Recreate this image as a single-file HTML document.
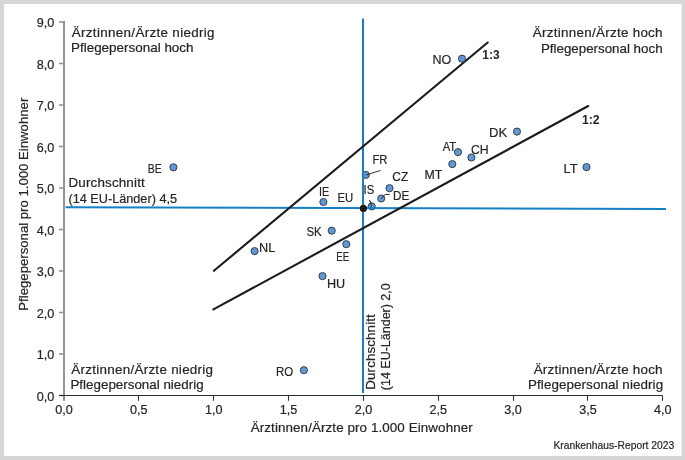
<!DOCTYPE html>
<html><head><meta charset="utf-8"><style>
html,body{margin:0;padding:0;background:#fff;}
#c{position:relative;width:685px;height:460px;overflow:hidden;}
svg{position:absolute;left:0;top:0;will-change:transform;}
text{font-family:"Liberation Sans",sans-serif;fill:#252525;stroke:#252525;stroke-width:0.2px;}
</style></head><body><div id="c">
<svg width="685" height="460" viewBox="0 0 685 460">
<rect x="0" y="0" width="685" height="460" fill="#d5d6d8"/>
<rect x="4" y="4" width="677.5" height="452" fill="#ffffff"/>
<line x1="64" y1="21" x2="64" y2="396" stroke="#979393" stroke-width="2"/>
<line x1="59" y1="395.50" x2="64" y2="395.50" stroke="#979393" stroke-width="1.6"/>
<line x1="59" y1="354.00" x2="64" y2="354.00" stroke="#979393" stroke-width="1.6"/>
<line x1="59" y1="312.50" x2="64" y2="312.50" stroke="#979393" stroke-width="1.6"/>
<line x1="59" y1="271.00" x2="64" y2="271.00" stroke="#979393" stroke-width="1.6"/>
<line x1="59" y1="229.50" x2="64" y2="229.50" stroke="#979393" stroke-width="1.6"/>
<line x1="59" y1="188.00" x2="64" y2="188.00" stroke="#979393" stroke-width="1.6"/>
<line x1="59" y1="146.50" x2="64" y2="146.50" stroke="#979393" stroke-width="1.6"/>
<line x1="59" y1="105.00" x2="64" y2="105.00" stroke="#979393" stroke-width="1.6"/>
<line x1="59" y1="63.50" x2="64" y2="63.50" stroke="#979393" stroke-width="1.6"/>
<line x1="59" y1="22.00" x2="64" y2="22.00" stroke="#979393" stroke-width="1.6"/>
<line x1="59" y1="395.5" x2="662.5" y2="395.5" stroke="#2d2d2f" stroke-width="1.1"/>
<line x1="64.00" y1="395.5" x2="64.00" y2="400.8" stroke="#333" stroke-width="1.1"/>
<line x1="138.50" y1="395.5" x2="138.50" y2="400.8" stroke="#333" stroke-width="1.1"/>
<line x1="213.50" y1="395.5" x2="213.50" y2="400.8" stroke="#333" stroke-width="1.1"/>
<line x1="288.50" y1="395.5" x2="288.50" y2="400.8" stroke="#333" stroke-width="1.1"/>
<line x1="363.50" y1="395.5" x2="363.50" y2="400.8" stroke="#333" stroke-width="1.1"/>
<line x1="438.50" y1="395.5" x2="438.50" y2="400.8" stroke="#333" stroke-width="1.1"/>
<line x1="513.50" y1="395.5" x2="513.50" y2="400.8" stroke="#333" stroke-width="1.1"/>
<line x1="587.50" y1="395.5" x2="587.50" y2="400.8" stroke="#333" stroke-width="1.1"/>
<line x1="662.50" y1="395.5" x2="662.50" y2="400.8" stroke="#333" stroke-width="1.1"/>
<circle cx="365.8" cy="174.9" r="3.6" fill="#6097d5" stroke="#2b2c33" stroke-width="0.85"/>
<circle cx="371.7" cy="206.4" r="3.6" fill="#6097d5" stroke="#2b2c33" stroke-width="0.85"/>
<polyline points="365.9,175.0 380.7,170.4" fill="none" stroke="#2a2a2a" stroke-width="0.95"/>
<polyline points="371.4,206.3 370.7,202.4 369.3,199.9" fill="none" stroke="#2a2a2a" stroke-width="1.05"/>
<line x1="363" y1="18.6" x2="363" y2="393" stroke="#1580c6" stroke-width="2"/>
<line x1="65.5" y1="207.2" x2="666" y2="208.9" stroke="#1580c6" stroke-width="2"/>
<line x1="213.9" y1="270.8" x2="487.7" y2="42.5" stroke="#1b1b1b" stroke-width="2.1" stroke-linecap="round"/>
<line x1="213.4" y1="309.4" x2="588.2" y2="106" stroke="#1b1b1b" stroke-width="2.1" stroke-linecap="round"/>
<circle cx="462.0" cy="58.7" r="3.6" fill="#6097d5" stroke="#2b2c33" stroke-width="0.85"/>
<circle cx="517" cy="131.6" r="3.6" fill="#6097d5" stroke="#2b2c33" stroke-width="0.85"/>
<circle cx="458" cy="152.1" r="3.6" fill="#6097d5" stroke="#2b2c33" stroke-width="0.85"/>
<circle cx="471.4" cy="157.5" r="3.6" fill="#6097d5" stroke="#2b2c33" stroke-width="0.85"/>
<circle cx="452.3" cy="164.1" r="3.6" fill="#6097d5" stroke="#2b2c33" stroke-width="0.85"/>
<circle cx="586.5" cy="167.1" r="3.6" fill="#6097d5" stroke="#2b2c33" stroke-width="0.85"/>
<circle cx="389.5" cy="188.2" r="3.6" fill="#6097d5" stroke="#2b2c33" stroke-width="0.85"/>
<circle cx="381.2" cy="198.5" r="3.6" fill="#6097d5" stroke="#2b2c33" stroke-width="0.85"/>
<circle cx="323.4" cy="202" r="3.6" fill="#6097d5" stroke="#2b2c33" stroke-width="0.85"/>
<circle cx="173.4" cy="167.3" r="3.6" fill="#6097d5" stroke="#2b2c33" stroke-width="0.85"/>
<circle cx="254.6" cy="251.1" r="3.6" fill="#6097d5" stroke="#2b2c33" stroke-width="0.85"/>
<circle cx="331.7" cy="230.7" r="3.6" fill="#6097d5" stroke="#2b2c33" stroke-width="0.85"/>
<circle cx="346.3" cy="244.2" r="3.6" fill="#6097d5" stroke="#2b2c33" stroke-width="0.85"/>
<circle cx="322.5" cy="276.1" r="3.6" fill="#6097d5" stroke="#2b2c33" stroke-width="0.85"/>
<circle cx="303.9" cy="370.2" r="3.6" fill="#6097d5" stroke="#2b2c33" stroke-width="0.85"/>
<polyline points="381.3,198.6 385.1,194.4 389.7,194.4" fill="none" stroke="#2a2a2a" stroke-width="1"/>
<circle cx="363.4" cy="208.4" r="3.6" fill="#1c1a19"/>
<text id="lab_NO" x="432.40" y="64.40" font-size="13.1" font-weight="normal" textLength="18.74" lengthAdjust="spacingAndGlyphs">NO</text>
<text id="lab_DK" x="488.98" y="137.30" font-size="13.1" font-weight="normal" textLength="18.20" lengthAdjust="spacingAndGlyphs">DK</text>
<text id="lab_AT" x="442.74" y="150.80" font-size="13.1" font-weight="normal" textLength="13.44" lengthAdjust="spacingAndGlyphs">AT</text>
<text id="lab_CH" x="470.94" y="153.90" font-size="13.1" font-weight="normal" textLength="17.70" lengthAdjust="spacingAndGlyphs">CH</text>
<text id="lab_MT" x="424.48" y="179.00" font-size="13.1" font-weight="normal" textLength="17.82" lengthAdjust="spacingAndGlyphs">MT</text>
<text id="lab_LT" x="563.56" y="173.00" font-size="13.1" font-weight="normal" textLength="14.08" lengthAdjust="spacingAndGlyphs">LT</text>
<text id="lab_FR" x="372.44" y="164.40" font-size="13.1" font-weight="normal" textLength="15.08" lengthAdjust="spacingAndGlyphs">FR</text>
<text id="lab_CZ" x="392.36" y="180.70" font-size="13.1" font-weight="normal" textLength="15.86" lengthAdjust="spacingAndGlyphs">CZ</text>
<text id="lab_DE" x="392.98" y="199.50" font-size="13.1" font-weight="normal" textLength="16.24" lengthAdjust="spacingAndGlyphs">DE</text>
<text id="lab_IS" x="363.52" y="193.80" font-size="13.1" font-weight="normal" textLength="10.66" lengthAdjust="spacingAndGlyphs">IS</text>
<text id="lab_IE" x="318.90" y="196.20" font-size="13.1" font-weight="normal" textLength="10.24" lengthAdjust="spacingAndGlyphs">IE</text>
<text id="lab_EU" x="337.40" y="202.20" font-size="13.1" font-weight="normal" textLength="15.74" lengthAdjust="spacingAndGlyphs">EU</text>
<text id="lab_BE" x="147.86" y="173.10" font-size="13.1" font-weight="normal" textLength="13.90" lengthAdjust="spacingAndGlyphs">BE</text>
<text id="lab_NL" x="258.98" y="252.20" font-size="13.1" font-weight="normal" textLength="16.24" lengthAdjust="spacingAndGlyphs">NL</text>
<text id="lab_SK" x="306.48" y="236.10" font-size="13.1" font-weight="normal" textLength="15.24" lengthAdjust="spacingAndGlyphs">SK</text>
<text id="lab_EE" x="336.36" y="261.30" font-size="13.1" font-weight="normal" textLength="12.94" lengthAdjust="spacingAndGlyphs">EE</text>
<text id="lab_HU" x="326.94" y="288.30" font-size="13.1" font-weight="normal" textLength="18.24" lengthAdjust="spacingAndGlyphs">HU</text>
<text id="lab_RO" x="275.98" y="375.70" font-size="13.1" font-weight="normal" textLength="17.20" lengthAdjust="spacingAndGlyphs">RO</text>
<text id="r13" x="482.36" y="58.80" font-size="12.4" font-weight="bold" textLength="17.28" lengthAdjust="spacingAndGlyphs" style="stroke-width:0">1:3</text>
<text id="r12" x="581.90" y="124.00" font-size="12.4" font-weight="bold" textLength="17.74" lengthAdjust="spacingAndGlyphs" style="stroke-width:0">1:2</text>
<text id="q1a" x="71.78" y="36.90" font-size="13.4" font-weight="normal" textLength="142.78" lengthAdjust="spacing">Ärztinnen/Ärzte niedrig</text>
<text id="q1b" x="70.98" y="52.40" font-size="13.4" font-weight="normal" textLength="122.58" lengthAdjust="spacingAndGlyphs">Pflegepersonal hoch</text>
<text id="q2a" x="532.78" y="37.10" font-size="13.4" font-weight="normal" textLength="129.78" lengthAdjust="spacing">Ärztinnen/Ärzte hoch</text>
<text id="q2b" x="540.90" y="52.50" font-size="13.4" font-weight="normal" textLength="121.66" lengthAdjust="spacingAndGlyphs">Pflegepersonal hoch</text>
<text id="q3a" x="71.24" y="374.00" font-size="13.4" font-weight="normal" textLength="141.82" lengthAdjust="spacing">Ärztinnen/Ärzte niedrig</text>
<text id="q3b" x="70.44" y="389.10" font-size="13.4" font-weight="normal" textLength="133.16" lengthAdjust="spacingAndGlyphs">Pflegepersonal niedrig</text>
<text id="q4a" x="533.66" y="374.00" font-size="13.4" font-weight="normal" textLength="128.90" lengthAdjust="spacing">Ärztinnen/Ärzte hoch</text>
<text id="q4b" x="527.98" y="388.60" font-size="13.4" font-weight="normal" textLength="135.12" lengthAdjust="spacing">Pflegepersonal niedrig</text>
<text id="avg1" x="68.44" y="187.40" font-size="13.4" font-weight="normal" textLength="76.32" lengthAdjust="spacing">Durchschnitt</text>
<text id="avg2" x="68.44" y="202.70" font-size="13.4" font-weight="normal" textLength="108.58" lengthAdjust="spacingAndGlyphs">(14 EU-Länder) 4,5</text>
<text id="xt" x="250.74" y="432.30" font-size="13.4" font-weight="normal" textLength="221.98" lengthAdjust="spacing">Ärztinnen/Ärzte pro 1.000 Einwohner</text>
<text id="foot" x="553.48" y="449.20" font-size="11.2" font-weight="normal" textLength="120.70" lengthAdjust="spacingAndGlyphs">Krankenhaus-Report 2023</text>
<text x="54.3" y="400.60" font-size="12.6" text-anchor="end">0,0</text>
<text x="54.3" y="359.10" font-size="12.6" text-anchor="end">1,0</text>
<text x="54.3" y="317.60" font-size="12.6" text-anchor="end">2,0</text>
<text x="54.3" y="276.10" font-size="12.6" text-anchor="end">3,0</text>
<text x="54.3" y="234.60" font-size="12.6" text-anchor="end">4,0</text>
<text x="54.3" y="193.10" font-size="12.6" text-anchor="end">5,0</text>
<text x="54.3" y="151.60" font-size="12.6" text-anchor="end">6,0</text>
<text x="54.3" y="110.10" font-size="12.6" text-anchor="end">7,0</text>
<text x="54.3" y="68.60" font-size="12.6" text-anchor="end">8,0</text>
<text x="54.3" y="27.10" font-size="12.6" text-anchor="end">9,0</text>
<text x="64.00" y="414.30" font-size="12.6" text-anchor="middle">0,0</text>
<text x="138.85" y="414.30" font-size="12.6" text-anchor="middle">0,5</text>
<text x="213.70" y="414.30" font-size="12.6" text-anchor="middle">1,0</text>
<text x="288.55" y="414.30" font-size="12.6" text-anchor="middle">1,5</text>
<text x="363.40" y="414.30" font-size="12.6" text-anchor="middle">2,0</text>
<text x="438.25" y="414.30" font-size="12.6" text-anchor="middle">2,5</text>
<text x="513.10" y="414.30" font-size="12.6" text-anchor="middle">3,0</text>
<text x="587.95" y="414.30" font-size="12.6" text-anchor="middle">3,5</text>
<text x="662.80" y="414.30" font-size="12.6" text-anchor="middle">4,0</text>
<text id="yt" transform="translate(27.50,310.68) rotate(-90)" x="0" y="0" font-size="13.4" textLength="212.98" lengthAdjust="spacingAndGlyphs">Pflegepersonal pro 1.000 Einwohner</text>
<text id="v1" transform="translate(374.80,389.68) rotate(-90)" x="0" y="0" font-size="13.4" textLength="75.48" lengthAdjust="spacing">Durchschnitt</text>
<text id="v2" transform="translate(389.80,390.14) rotate(-90)" x="0" y="0" font-size="13.4" textLength="106.86" lengthAdjust="spacingAndGlyphs">(14 EU-Länder) 2,0</text>
</svg></div></body></html>
